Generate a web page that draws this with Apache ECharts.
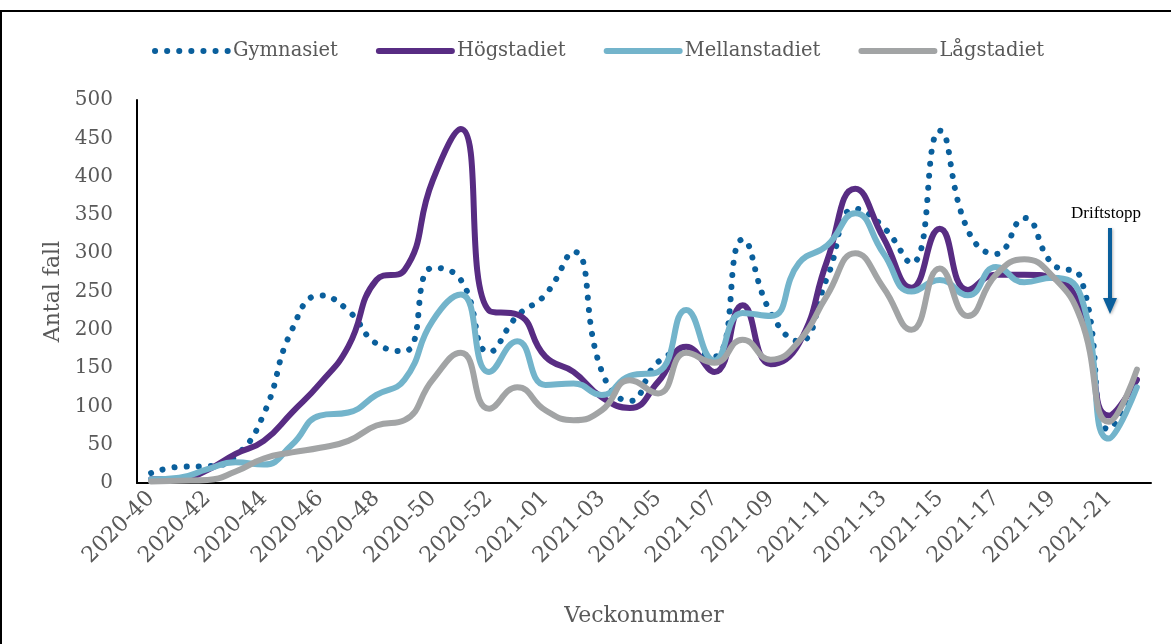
<!DOCTYPE html>
<html>
<head>
<meta charset="utf-8">
<script src="https://cdn.jsdelivr.net/npm/echarts@6/dist/echarts.min.js"></script>
<style>
  html, body { margin: 0; padding: 0; background: #fff; }
  #chart { width: 1171px; height: 644px; }
</style>
</head>
<body>
<div id="chart"></div>
<script>
var weeks = [
    '2020-40', '2020-41', '2020-42', '2020-43', '2020-44', '2020-45', '2020-46', '2020-47',
    '2020-48', '2020-49', '2020-50', '2020-51', '2020-52', '2020-53',
    '2021-01', '2021-02', '2021-03', '2021-04', '2021-05', '2021-06', '2021-07', '2021-08',
    '2021-09', '2021-10', '2021-11', '2021-12', '2021-13', '2021-14', '2021-15', '2021-16',
    '2021-17', '2021-18', '2021-19', '2021-20', '2021-21', '2021-22'
];
var gymnasiet = [13, 21, 22, 35, 90, 200, 245, 225, 182, 172, 281, 265, 171, 218, 246, 302, 146, 107, 158, 170, 165, 318, 222, 185, 268, 358, 334, 287, 460, 330, 299, 346, 286, 268, 70, 135];
var hogstadiet = [5, 5, 17, 38, 55, 92, 130, 178, 265, 278, 395, 462, 225, 220, 165, 145, 112, 98, 132, 178, 145, 232, 155, 182, 290, 384, 320, 255, 332, 252, 272, 272, 268, 228, 88, 135];
var mellanstadiet = [5, 7, 18, 27, 24, 50, 88, 92, 115, 135, 212, 246, 145, 185, 128, 130, 115, 140, 145, 226, 160, 222, 218, 287, 310, 352, 300, 250, 265, 245, 282, 262, 268, 245, 58, 125];
var lagstadiet = [2, 3, 4, 15, 32, 40, 46, 55, 75, 82, 135, 170, 97, 125, 95, 82, 95, 134, 117, 170, 157, 187, 161, 185, 245, 300, 255, 200, 280, 218, 272, 292, 270, 215, 80, 148];

var serif = 'DejaVu Serif';
var grey = '#595959';
var lw = 6;

var mychart = echarts.init(document.getElementById('chart'));
mychart.setOption({
    animation: false,
    color: ['#0a5f9c', '#582c83', '#73b4cb', '#a2a4a5'],
    legend: {
        left: 147,
        top: 36,
        itemWidth: 73,
        itemHeight: 14,
        itemGap: 38,
        itemStyle: { opacity: 0 },
        lineStyle: { width: lw },
        textStyle: {
            fontFamily: serif,
            fontSize: 19.5,
            color: grey
        },
        data: ['Gymnasiet', 'Högstadiet', 'Mellanstadiet', 'Lågstadiet']
    },
    grid: {
        left: 137,
        right: 20,
        top: 100,
        bottom: 161
    },
    xAxis: {
        type: 'category',
        data: weeks,
        boundaryGap: true,
        name: 'Veckonummer',
        nameLocation: 'middle',
        nameGap: 122,
        nameTextStyle: {
            fontFamily: serif,
            fontSize: 22,
            color: grey
        },
        axisLine: {
            lineStyle: { color: '#000', width: 2 }
        },
        axisTick: { show: false },
        axisLabel: {
            interval: 1,
            rotate: 45,
            margin: 12,
            fontFamily: serif,
            fontSize: 22,
            color: grey
        }
    },
    yAxis: {
        type: 'value',
        min: 0,
        max: 500,
        interval: 50,
        name: 'Antal fall',
        nameLocation: 'middle',
        nameRotate: 90,
        nameGap: 70,
        nameTextStyle: {
            fontFamily: serif,
            fontSize: 22,
            color: grey
        },
        axisLine: {
            show: true,
            lineStyle: { color: '#000', width: 2 }
        },
        axisTick: { show: false },
        splitLine: { show: false },
        axisLabel: {
            margin: 24,
            fontFamily: serif,
            fontSize: 20,
            color: grey
        }
    },
    series: [
        {
            name: 'Gymnasiet',
            type: 'line',
            data: gymnasiet,
            smooth: 0.5,
            symbol: 'none',
            lineStyle: { width: lw, type: [0.1, 12], cap: 'round' }
        },
        {
            name: 'Högstadiet',
            type: 'line',
            data: hogstadiet,
            smooth: 0.5,
            symbol: 'none',
            lineStyle: { width: lw, cap: 'round' }
        },
        {
            name: 'Mellanstadiet',
            type: 'line',
            data: mellanstadiet,
            smooth: 0.5,
            symbol: 'none',
            lineStyle: { width: lw, cap: 'round' }
        },
        {
            name: 'Lågstadiet',
            type: 'line',
            data: lagstadiet,
            smooth: 0.5,
            symbol: 'none',
            lineStyle: { width: lw, cap: 'round' }
        }
    ],
    graphic: [
        {
            type: 'rect',
            shape: { x: 1, y: 11, width: 1200, height: 700 },
            style: { fill: 'none', stroke: '#000', lineWidth: 2 },
            silent: true
        },
        {
            type: 'text',
            left: 1071,
            top: 205,
            style: {
                text: 'Driftstopp',
                font: '17px "Liberation Serif"',
                fill: '#000'
            }
        },
        {
            type: 'line',
            shape: { x1: 1110, y1: 228, x2: 1110, y2: 300 },
            style: {
                stroke: '#0a5f9c',
                lineWidth: 4,
                shadowBlur: 3,
                shadowColor: 'rgba(0,0,0,0.3)',
                shadowOffsetX: 1,
                shadowOffsetY: 1
            }
        },
        {
            type: 'polygon',
            shape: { points: [[1103, 298], [1117, 298], [1110, 314]] },
            style: {
                fill: '#0a5f9c',
                shadowBlur: 3,
                shadowColor: 'rgba(0,0,0,0.3)',
                shadowOffsetX: 1,
                shadowOffsetY: 1
            }
        }
    ]
});
</script>
</body>
</html>
